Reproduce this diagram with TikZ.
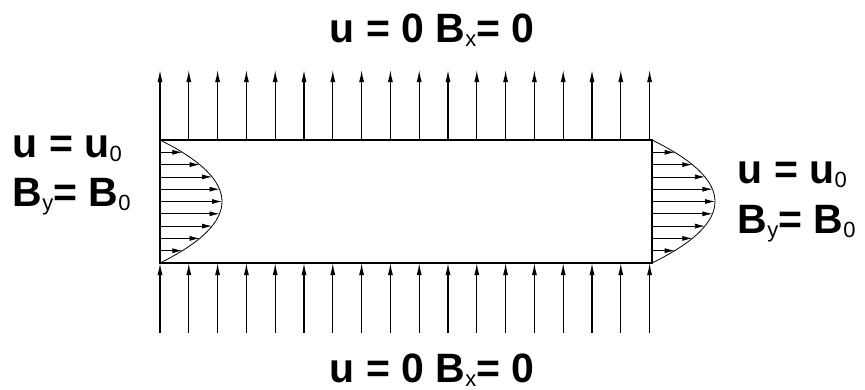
\documentclass[tikz,border=0pt]{standalone}
\usepackage{fontspec}
\setmainfont{Liberation Sans}
\usetikzlibrary{arrows.meta}
\newcommand{\sbs}[1]{\raisebox{-4pt}{\fontsize{22}{22}\selectfont\mdseries #1}}
\begin{document}
\begin{tikzpicture}[x=1pt,y=-1pt,
  bnd/.style={line width=1.1pt,-{Latex[length=12pt,width=5pt]}},
  prof/.style={line width=0.8pt,-{Latex[length=10pt,width=5pt]}},
  wall/.style={line width=2pt},
  curv/.style={line width=0.8pt},
  lbl/.style={font=\fontsize{41}{41}\selectfont\bfseries, inner sep=0pt, anchor=base west}]
\useasboundingbox (0,0) rectangle (865,389);
% boundary arrows top and bottom
\foreach \i in {0,...,17} {
  \coordinate (t\i) at ({160+28.8*\i},140);
  \coordinate (tt\i) at ({160+28.8*\i},70);
  \coordinate (b\i) at ({160+28.8*\i},333);
  \coordinate (bb\i) at ({160+28.8*\i},263);
  \draw[bnd] (t\i) -- (tt\i);
  \draw[bnd] (b\i) -- (bb\i);
}
% velocity profiles
\foreach \k in {1,...,9} {
  \pgfmathsetmacro\yy{140+12.3*\k}
  \pgfmathsetmacro\len{62*(1-((\yy-201.5)/61.5)^2)}
  \pgfmathsetmacro\lenr{63*(1-((\yy-201.5)/61.5)^2)}
  \draw[prof] (160,\yy) -- ({160+\len},\yy);
  \draw[prof] (652,\yy) -- ({652+\lenr},\yy);
}
\draw[curv] (160,140) .. controls (242.67,181) and (242.67,222) .. (160,263);
\draw[curv] (652,140) .. controls (736,181) and (736,222) .. (652,263);
% channel
\draw[wall] (160,140) rectangle (652,263);
% labels
\node[lbl] (top) at (329.5,42) {u = 0 B\sbs{x}= 0};
\node[lbl] (bot) at (329.5,382) {u = 0 B\sbs{x}= 0};
\node[lbl] (l1) at (12.5,157) {u = u\sbs{0}};
\node[lbl] (l2) at (12.5,206) {B\sbs{y}= B\sbs{0}};
\node[lbl] (r1) at (737.5,183) {u = u\sbs{0}};
\node[lbl] (r2) at (737.5,233) {B\sbs{y}= B\sbs{0}};
\end{tikzpicture}
\end{document}
